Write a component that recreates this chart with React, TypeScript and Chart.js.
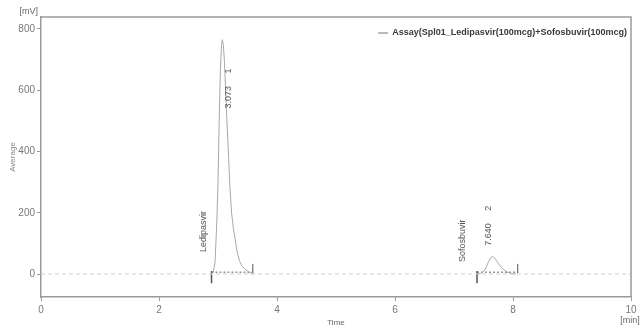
import React, { useEffect, useRef } from "react";
import { Chart, registerables } from "chart.js";

Chart.register(...registerables);

// Chromatogram signal (time in min, signal in mV); null = gap (baseline drawn separately)
const timeMin = [
  2.88, 2.92, 2.95, 2.98, 3.0, 3.02, 3.04, 3.06, 3.073, 3.09, 3.11, 3.13, 3.15, 3.18, 3.2, 3.23, 3.26, 3.29, 3.32, 3.36, 3.4, 3.45, 3.5, 3.55, 3.6,
  5.0,
  7.4, 7.45, 7.5, 7.54, 7.58, 7.62, 7.65, 7.68, 7.72, 7.76, 7.8, 7.85, 7.9, 7.95, 8.0, 8.05,
];
const signalMV: (number | null)[] = [
  0, 5, 40, 170, 300, 500, 660, 750, 765, 750, 690, 600, 505, 380, 290, 200, 150, 115, 75, 45, 28, 17, 10, 4, 0,
  null,
  0, 2, 8, 20, 38, 53, 57, 54, 44, 32, 22, 13, 7, 3, 1, 0,
];

// Integration baseline markers: [tStart, tEnd]
const peakStart = [2.89, 7.39];
const peakEnd = [3.59, 8.08];
const baselineLevel = 6;

// Peak annotations
const peakNames = ["Ledipasvir", "Sofosbuvir"];
const peakNameAt = [[2.75, 72], [7.14, 39]];
const peakRT = ["3.073", "7.640"];
const peakNo = ["1", "2"];
const peakRTAt = [[3.17, 540], [7.58, 92]];

const xTicks = [0, 2, 4, 6, 8, 10];
const yTicks = [0, 200, 400, 600, 800];
const seriesName = "Assay(Spl01_Ledipasvir(100mcg)+Sofosbuvir(100mcg)";

const FONT = "'Liberation Sans', Arial, sans-serif";

export default function App() {
  const ref = useRef<HTMLCanvasElement>(null);
  useEffect(() => {
    document.body.style.margin = "0";
    const signal = timeMin.map((t, i) => ({ x: t, y: signalMV[i] }));
    const dotted: any[] = [];
    const ticksL: any[] = [];
    const ticksR: any[] = [];
    peakStart.forEach((s, i) => {
      dotted.push({ x: s, y: baselineLevel }, { x: peakEnd[i], y: baselineLevel }, { x: NaN, y: null });
      ticksL.push({ x: s, y: 10 }, { x: s, y: -30 }, { x: NaN, y: null });
      ticksR.push({ x: peakEnd[i], y: 3 }, { x: peakEnd[i], y: 33 }, { x: NaN, y: null });
    });

    const annot = {
      id: "annot",
      afterDatasetsDraw(chart: any) {
        const { ctx, scales, chartArea } = chart;
        const xs = scales.x, ys = scales.y;
        ctx.save();
        // frame top & right
        ctx.strokeStyle = "#9a9a9a";
        ctx.lineWidth = 1.5;
        ctx.beginPath();
        ctx.moveTo(chartArea.left, chartArea.top);
        ctx.lineTo(chartArea.right, chartArea.top);
        ctx.lineTo(chartArea.right, chartArea.bottom);
        ctx.stroke();
        // rotated labels
        ctx.fillStyle = "#555";
        ctx.font = `9px ${FONT}`;
        ctx.textAlign = "left";
        ctx.textBaseline = "middle";
        const rot = (txt: string, t: number, v: number) => {
          ctx.save();
          ctx.translate(xs.getPixelForValue(t), ys.getPixelForValue(v));
          ctx.rotate(-Math.PI / 2);
          ctx.fillText(txt, 0, 0);
          ctx.restore();
        };
        peakNames.forEach((n, i) => rot(n, peakNameAt[i][0], peakNameAt[i][1]));
        peakRT.forEach((n, i) => rot(n + "     " + peakNo[i], peakRTAt[i][0], peakRTAt[i][1]));
        // legend
        ctx.font = `bold 9px ${FONT}`;
        ctx.fillStyle = "#3a3a3a";
        ctx.textAlign = "right";
        const w = ctx.measureText(seriesName).width;
        const tx = 627;
        ctx.fillText(seriesName, tx, 33);
        ctx.strokeStyle = "#777";
        ctx.lineWidth = 1;
        ctx.beginPath();
        ctx.moveTo(tx - w - 14, 33);
        ctx.lineTo(tx - w - 4, 33);
        ctx.stroke();
        // unit labels
        ctx.font = `9px ${FONT}`;
        ctx.fillStyle = "#666";
        ctx.textAlign = "right";
        ctx.fillText("[mV]", 38, 12);
        ctx.textAlign = "center";
        ctx.fillText("[min]", 630, 321);
        ctx.restore();
      },
    };

    const chart = new Chart(ref.current!, {
      type: "scatter",
      data: {
        datasets: [
          { data: [{ x: 0, y: 0 }, { x: 10, y: 0 }], showLine: true, borderColor: "#cfcfcf", borderWidth: 1, borderDash: [4, 3], pointRadius: 0 },
          { data: signal, showLine: true, borderColor: "#a8a8a8", borderWidth: 1, pointRadius: 0, spanGaps: false },
          { data: dotted, showLine: true, borderColor: "#666", borderWidth: 1, borderDash: [2, 2], pointRadius: 0, spanGaps: false },
          { data: ticksL, showLine: true, borderColor: "#555", borderWidth: 1.5, pointRadius: 0, spanGaps: false },
          { data: ticksR, showLine: true, borderColor: "#555", borderWidth: 1, pointRadius: 0, spanGaps: false },
        ],
      },
      options: {
        animation: false,
        responsive: false,
        maintainAspectRatio: false,
        layout: { padding: { left: 0, top: 17, right: 10, bottom: 0 } },
        plugins: { legend: { display: false }, tooltip: { enabled: false } },
        scales: {
          x: {
            type: "linear",
            min: 0,
            max: 10,
            afterBuildTicks: (s: any) => { s.ticks = xTicks.map((v) => ({ value: v })); },
            afterFit: (s: any) => { s.height = 33; },
            ticks: { color: "#777", font: { size: 10, family: FONT }, padding: 3, maxRotation: 0 },
            grid: { display: true, drawOnChartArea: false, drawTicks: true, tickLength: 4, color: "#999" },
            border: { color: "#9a9a9a", width: 1.5 },
            title: { display: true, text: "Time", color: "#666", font: { size: 8, family: FONT }, padding: { top: 0, bottom: 2 } },
          },
          y: {
            type: "linear",
            min: -75,
            max: 839,
            afterBuildTicks: (s: any) => { s.ticks = yTicks.map((v) => ({ value: v })); },
            afterFit: (s: any) => { s.width = 41; },
            ticks: { color: "#777", font: { size: 10, family: FONT }, padding: 2 },
            grid: { display: true, drawOnChartArea: false, drawTicks: true, tickLength: 4, color: "#999" },
            border: { color: "#9a9a9a", width: 1.5 },
            title: { display: true, text: "Average", color: "#888", font: { size: 8, family: FONT }, padding: { top: 8, bottom: 0 } },
          },
        },
      },
      plugins: [annot],
    });
    return () => chart.destroy();
  }, []);
  return (
    <div style={{ width: 641, height: 330 }}>
      <canvas ref={ref} width={641} height={330} style={{ width: 641, height: 330, display: "block" }} />
    </div>
  );
}
